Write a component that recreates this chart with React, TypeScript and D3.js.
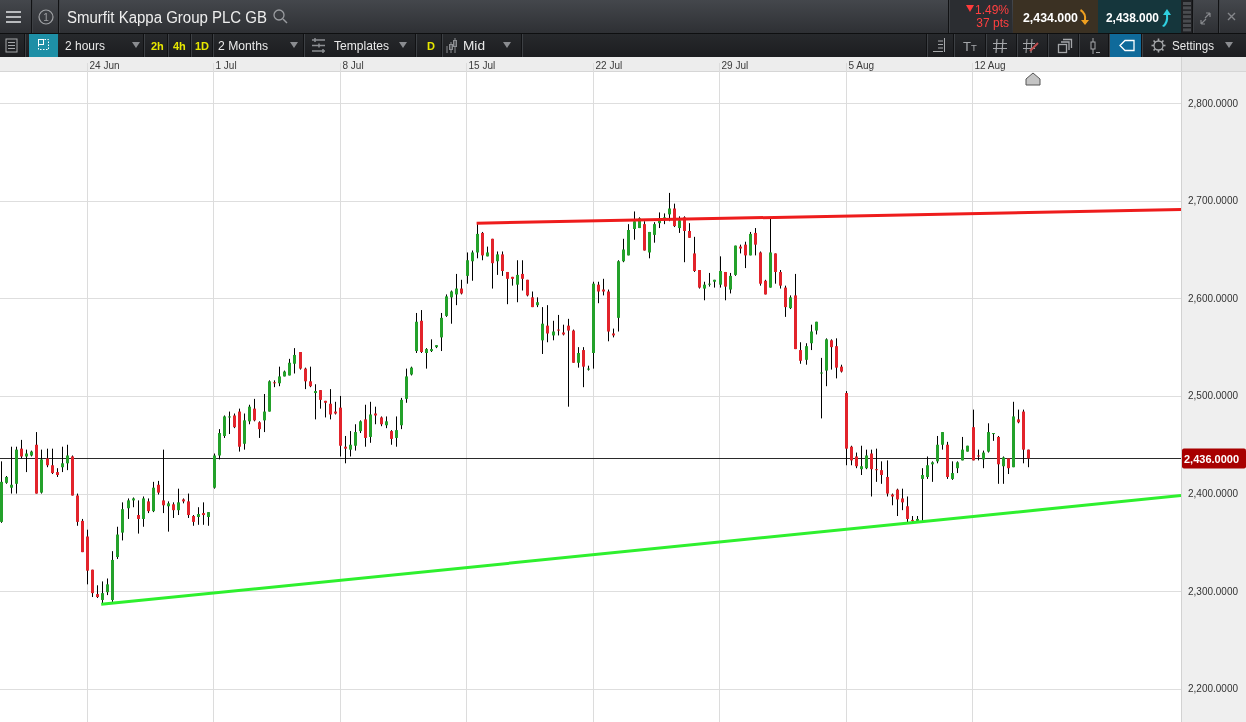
import React from 'react';
import * as d3 from 'd3';

const W = 1246;
const H = 722;

// ---- data (2-hour candles, index 0 = first visible candle) ----
const opens = [2371,2411,2406,2410,2446,2438,2439,2450,2401,2436,2429,2422,2427,2431,2438,2398,2372,2356,2322,2297,2291,2299,2291,2335,2360,2385,2393,2378,2374,2392,2382,2409,2393,2387,2389,2383,2394,2392,2377,2376,2380,2376,2406,2439,2459,2478,2480,2484,2451,2474,2487,2473,2475,2484,2514,2513,2520,2521,2533,2545,2528,2515,2503,2506,2495,2492,2484,2488,2448,2445,2449,2464,2476,2458,2482,2478,2470,2464,2457,2470,2497,2522,2546,2577,2544,2546,2550,2560,2582,2601,2604,2610,2623,2638,2647,2667,2643,2661,2638,2645,2627,2622,2614,2625,2619,2601,2593,2557,2572,2562,2568,2565,2572,2567,2534,2547,2527,2544,2614,2609,2607,2564,2580,2638,2644,2671,2672,2676,2647,2665,2677,2682,2686,2692,2672,2683,2669,2646,2629,2610,2615,2617,2614,2627,2609,2624,2653,2655,2644,2667,2647,2618,2611,2646,2627,2611,2590,2603,2547,2537,2554,2567,2523,2526,2557,2551,2530,2503,2448,2438,2425,2426,2441,2425,2424,2417,2399,2404,2395,2387,2373,2372,2415,2417,2430,2433,2450,2450,2415,2426,2434,2443,2468,2439,2435,2443,2461,2458,2428,2436,2427,2476,2484,2445];
const highs = [2433,2418,2448,2448,2455,2445,2444,2463,2445,2446,2446,2426,2448,2450,2439,2400,2374,2363,2322,2306,2310,2313,2341,2366,2391,2395,2396,2393,2397,2395,2412,2413,2445,2392,2391,2405,2395,2400,2378,2386,2391,2381,2441,2466,2480,2484,2482,2487,2482,2491,2497,2474,2502,2516,2516,2530,2526,2538,2549,2545,2529,2530,2512,2506,2495,2507,2494,2500,2459,2464,2471,2475,2491,2494,2489,2479,2479,2465,2479,2498,2528,2530,2585,2588,2549,2558,2552,2585,2604,2608,2625,2619,2647,2649,2676,2668,2653,2661,2648,2648,2627,2622,2639,2639,2619,2607,2601,2591,2593,2577,2583,2573,2579,2568,2550,2550,2531,2617,2617,2620,2609,2569,2639,2661,2676,2689,2683,2679,2668,2678,2688,2687,2708,2697,2684,2684,2677,2663,2629,2617,2626,2619,2643,2627,2626,2654,2655,2658,2668,2672,2648,2619,2683,2646,2629,2613,2603,2625,2555,2554,2573,2576,2539,2559,2558,2559,2532,2505,2449,2442,2449,2445,2445,2446,2433,2434,2400,2405,2405,2397,2377,2377,2426,2438,2433,2459,2463,2453,2433,2433,2458,2449,2486,2445,2444,2472,2462,2459,2438,2436,2494,2486,2486,2445];
const lows = [2370,2410,2400,2400,2436,2422,2438,2400,2400,2427,2420,2417,2422,2424,2398,2367,2340,2307,2294,2293,2287,2296,2289,2333,2352,2374,2386,2359,2366,2380,2381,2399,2380,2361,2375,2378,2390,2375,2367,2368,2368,2367,2405,2435,2457,2461,2467,2443,2445,2471,2474,2457,2463,2484,2509,2510,2520,2521,2523,2527,2507,2509,2476,2487,2478,2476,2481,2438,2431,2438,2444,2462,2448,2452,2471,2469,2467,2450,2448,2466,2493,2521,2544,2544,2528,2545,2549,2546,2581,2574,2593,2604,2615,2618,2641,2639,2643,2610,2624,2623,2594,2613,2596,2608,2602,2591,2591,2543,2555,2557,2562,2562,2489,2534,2529,2509,2526,2528,2595,2603,2556,2560,2566,2637,2644,2660,2672,2649,2641,2657,2672,2676,2679,2673,2667,2637,2662,2627,2610,2598,2612,2611,2611,2598,2605,2623,2646,2631,2644,2644,2613,2604,2611,2615,2610,2581,2589,2548,2533,2532,2547,2563,2477,2510,2527,2518,2524,2429,2429,2426,2419,2425,2397,2412,2410,2397,2388,2377,2383,2370,2370,2371,2371,2415,2412,2431,2445,2415,2414,2421,2434,2443,2434,2434,2426,2442,2454,2410,2410,2420,2427,2472,2431,2427];
const closes = [2412,2417,2409,2445,2438,2441,2443,2400,2435,2429,2421,2419,2431,2439,2398,2371,2340,2321,2298,2294,2298,2307,2332,2358,2384,2393,2395,2374,2395,2382,2406,2401,2388,2390,2383,2391,2392,2378,2371,2379,2378,2381,2439,2462,2479,2479,2468,2448,2475,2489,2475,2466,2484,2515,2513,2520,2525,2534,2542,2528,2515,2510,2505,2496,2493,2481,2482,2449,2446,2450,2463,2474,2457,2481,2480,2471,2474,2456,2465,2496,2520,2529,2576,2545,2548,2548,2552,2580,2602,2607,2610,2605,2639,2647,2666,2644,2647,2636,2645,2628,2620,2620,2624,2620,2603,2591,2596,2574,2564,2566,2567,2563,2567,2534,2544,2530,2528,2615,2607,2607,2566,2562,2638,2650,2670,2679,2682,2649,2668,2676,2682,2683,2692,2674,2680,2669,2662,2628,2611,2614,2615,2619,2628,2612,2623,2654,2651,2644,2666,2655,2615,2604,2647,2627,2613,2591,2601,2548,2536,2551,2566,2576,2524,2558,2550,2529,2525,2446,2434,2428,2428,2439,2425,2424,2419,2400,2397,2394,2391,2374,2372,2374,2419,2429,2432,2450,2463,2417,2421,2432,2445,2449,2434,2438,2442,2463,2462,2430,2437,2426,2479,2473,2445,2436];

const weekTickIndex = [17, 42, 67, 92, 117, 142, 167, 192];
const weekLabels = ['24 Jun', '1 Jul', '8 Jul', '15 Jul', '22 Jul', '29 Jul', '5 Aug', '12 Aug'];
const priceTicks = [2200, 2300, 2400, 2500, 2600, 2700, 2800];
const lastPrice = 2436;
const resistanceLine: [number, number][] = [[94, 2677], [233.2, 2691]];
const supportLine: [number, number][] = [[19.8, 2286.5], [233.2, 2398]];

const instrument = 'Smurfit Kappa Group PLC GB';
const changePct = '1.49%';
const changePts = '37 pts';
const sellPrice = '2,434.000';
const buyPrice = '2,438.000';

// ---- layout ----
const FONT = '"Liberation Sans", Arial, sans-serif';
const plotRight = 1181;
const plotTop = 72;
const stripTop = 57;

const GREEN = '#23a12a';
const RED = '#e2232b';

function Sep({ x, y1, y2 }: { x: number; y1: number; y2: number }) {
  return (
    <g>
      <line x1={x - 0.5} x2={x - 0.5} y1={y1} y2={y2} stroke="#111214" />
      <line x1={x + 0.5} x2={x + 0.5} y1={y1} y2={y2} stroke="#3d4044" />
    </g>
  );
}

function Tri({ x, y }: { x: number; y: number }) {
  return <path d={`M${x - 4},${y - 3} L${x + 4},${y - 3} L${x},${y + 3} Z`} fill="#8a8c90" />;
}

export default function App() {
  const x = d3.scaleLinear().domain([-0.2, 233.2]).range([0, plotRight]);
  const y = d3.scaleLinear().domain([2200, 2800]).range([688.8, 103.1]);
  const fmt = d3.format(',.4f');
  const n = closes.length;
  const line = d3.line<[number, number]>().x((d) => x(d[0])).y((d) => y(d[1]));

  const candles = d3.range(n).map((i) => {
    const o = opens[i], c = closes[i], h = highs[i], l = lows[i];
    const cx = Math.round(x(i)) + 0.5;
    const top = y(Math.max(o, c));
    const bh = Math.max(1, Math.abs(y(o) - y(c)));
    return (
      <g key={i}>
        <line x1={cx} x2={cx} y1={y(h)} y2={y(l)} stroke="#000" strokeWidth={1} />
        <rect x={cx - 1.5} y={top} width={3} height={bh} fill={c >= o ? GREEN : RED} />
      </g>
    );
  });

  const hx = Math.round(x(n));
  const lastY = Math.round(y(lastPrice)) + 0.5;

  return (
    <div style={{ position: 'fixed', left: 0, top: 0, width: W, height: H }}>
      <svg width={W} height={H} style={{ display: 'block', fontFamily: FONT }}>
        <defs>
          <linearGradient id="row1" x1="0" y1="0" x2="0" y2="1">
            <stop offset="0" stopColor="#44474c" />
            <stop offset="1" stopColor="#2e3034" />
          </linearGradient>
          <linearGradient id="row2" x1="0" y1="0" x2="0" y2="1">
            <stop offset="0" stopColor="#27292c" />
            <stop offset="1" stopColor="#1c1d20" />
          </linearGradient>
          <clipPath id="plotClip">
            <rect x={0} y={plotTop} width={plotRight} height={H - plotTop} />
          </clipPath>
        </defs>

        {/* plot background */}
        <rect x={0} y={plotTop} width={plotRight} height={H - plotTop} fill="#ffffff" />
        {/* right axis panel */}
        <rect x={plotRight} y={plotTop} width={W - plotRight} height={H - plotTop} fill="#efefef" />
        <line x1={plotRight + 0.5} x2={plotRight + 0.5} y1={stripTop} y2={H} stroke="#d2d2d2" />

        {/* date strip */}
        <rect x={0} y={stripTop} width={plotRight} height={plotTop - stripTop} fill="#ededed" />
        <rect x={plotRight + 1} y={stripTop} width={W - plotRight} height={plotTop - stripTop} fill="#e6e6e6" />
        <line x1={0} x2={W} y1={plotTop - 0.5} y2={plotTop - 0.5} stroke="#d6d6d6" />

        {/* grid */}
        {priceTicks.map((p) => (
          <line key={p} x1={0} x2={plotRight} y1={Math.round(y(p)) + 0.5} y2={Math.round(y(p)) + 0.5} stroke="#dedede" />
        ))}
        {weekTickIndex.map((t, k) => {
          const gx = Math.round(x(t - 0.1)) + 0.5;
          return (
            <g key={t}>
              <line x1={gx} x2={gx} y1={63} y2={H} stroke="#dcdcdc" />
              <text x={gx + 2} y={69} fontSize={10} fill="#3a3a3a">{weekLabels[k]}</text>
            </g>
          );
        })}

        {/* price axis labels */}
        {priceTicks.map((p) => (
          <text key={p} x={1188} y={y(p) + 3.5} fontSize={10.5} fill="#333" textLength={50} lengthAdjust="spacingAndGlyphs">
            {fmt(p)}
          </text>
        ))}

        <g clipPath="url(#plotClip)">
          {/* current price line */}
          <line x1={0} x2={plotRight} y1={lastY} y2={lastY} stroke="#2a2a2a" strokeWidth={1} />
          {candles}
          <path d={line(resistanceLine) || ''} stroke="#ee1c1c" strokeWidth={3} fill="none" />
          <path d={line(supportLine) || ''} stroke="#2ef02e" strokeWidth={3} fill="none" />
        </g>

        {/* last price tag */}
        <rect x={plotRight + 1} y={lastY - 10} width={W - plotRight - 1} height={20} rx={2} fill="#a80000" />
        <text x={1184} y={lastY + 4} fontSize={11} fontWeight="bold" fill="#ffffff" textLength={55} lengthAdjust="spacingAndGlyphs">
          {fmt(lastPrice)}
        </text>

        {/* home marker */}
        <path d={`M${hx},${73} L${hx + 7},${79} L${hx + 7},${85} L${hx - 7},${85} L${hx - 7},${79} Z`} fill="#c4c4c4" stroke="#555" strokeWidth={1} />

        {/* ---- header row 1 ---- */}
        <rect x={0} y={0} width={W} height={33} fill="url(#row1)" />
        <line x1={0} x2={W} y1={33.5} y2={33.5} stroke="#0e0f10" />
        {[12, 17, 22].map((yy) => (
          <line key={yy} x1={6} x2={21} y1={yy} y2={yy} stroke="#b8babd" strokeWidth={2} />
        ))}
        <Sep x={32} y1={0} y2={33} />
        <circle cx={46} cy={17} r={7} fill="none" stroke="#a0a2a5" strokeWidth={1.2} />
        <text x={46} y={21} fontSize={10} fill="#a0a2a5" textAnchor="middle">1</text>
        <Sep x={59} y1={0} y2={33} />
        <text x={67} y={23} fontSize={16} fill="#eeeeee" textLength={200} lengthAdjust="spacingAndGlyphs">{instrument}</text>
        <circle cx={279} cy={15} r={5} fill="none" stroke="#9a9ca0" strokeWidth={1.3} />
        <line x1={283} y1={19} x2={287} y2={23} stroke="#9a9ca0" strokeWidth={1.5} />

        {/* right side of row 1 */}
        <rect x={949} y={0} width={63} height={33} fill="#2b2d31" />
        <Sep x={949} y1={0} y2={33} />
        <path d="M966,5 L974,5 L970,12 Z" fill="#ff3b3b" />
        <text x={1009} y={14} fontSize={12} fill="#ff4040" textAnchor="end">{changePct}</text>
        <text x={1009} y={27} fontSize={12} fill="#ff4040" textAnchor="end">{changePts}</text>
        <rect x={1013} y={0} width={85} height={33} fill="#3b3123" />
        <text x={1023} y={22} fontSize={13} fontWeight="bold" fill="#ffffff" textLength={55} lengthAdjust="spacingAndGlyphs">{sellPrice}</text>
        <path d="M1080,11 Q1085,14 1084,20 L1081,20 L1085,25 L1089,20 L1086,20 Q1087,13 1081,9 Z" fill="#f0a020" />
        <rect x={1098} y={0} width={83} height={33} fill="#15363c" />
        <text x={1106} y={22} fontSize={13} fontWeight="bold" fill="#ffffff" textLength={53} lengthAdjust="spacingAndGlyphs">{buyPrice}</text>
        <path d="M1162,26 Q1167,22 1166,15 L1163,15 L1167,9 L1171,15 L1168,15 Q1169,23 1164,27 Z" fill="#2fd0e0" />
        <rect x={1181} y={0} width={12} height={33} fill="#1f2023" />
        {d3.range(7).map((k) => (
          <rect key={k} x={1183} y={2 + k * 4.4} width={8} height={3} fill="#4a4c50" />
        ))}
        <Sep x={1193} y1={0} y2={33} />
        <path d="M1201,24 L1206,19 M1201,24 L1201,20 M1201,24 L1205,24 M1210,13 L1205,18 M1210,13 L1210,17 M1210,13 L1206,13" stroke="#85878b" strokeWidth={1.2} fill="none" />
        <Sep x={1219} y1={0} y2={33} />
        <path d="M1228,13 L1235,20 M1235,13 L1228,20" stroke="#85878b" strokeWidth={1.4} />

        {/* ---- header row 2 ---- */}
        <rect x={0} y={34} width={W} height={23} fill="url(#row2)" />
        <rect x={6} y={39} width={11} height={13} fill="none" stroke="#a5a7aa" />
        {[42, 45, 48].map((yy) => (
          <line key={yy} x1={8} x2={15} y1={yy + 0.5} y2={yy + 0.5} stroke="#a5a7aa" />
        ))}
        <Sep x={25} y1={34} y2={57} />
        <rect x={29} y={34} width={29} height={23} fill="#1e8fa6" />
        <rect x={38.5} y={39.5} width={10} height={10} fill="none" stroke="#ffffff" strokeDasharray="1.5 1.5" />
        <rect x={38.5} y={39.5} width={5} height={5} fill="none" stroke="#ffffff" />
        <text x={65} y={50} fontSize={13} fill="#e9e9e9" textLength={40} lengthAdjust="spacingAndGlyphs">2 hours</text>
        <Tri x={136} y={45} />
        <Sep x={144} y1={34} y2={57} />
        <text x={151} y={50} fontSize={11} fontWeight="bold" fill="#e8e800">2h</text>
        <Sep x={168} y1={34} y2={57} />
        <text x={173} y={50} fontSize={11} fontWeight="bold" fill="#e8e800">4h</text>
        <Sep x={191} y1={34} y2={57} />
        <text x={195} y={50} fontSize={11} fontWeight="bold" fill="#e8e800">1D</text>
        <Sep x={213} y1={34} y2={57} />
        <text x={218} y={50} fontSize={13} fill="#e9e9e9" textLength={50} lengthAdjust="spacingAndGlyphs">2 Months</text>
        <Tri x={294} y={45} />
        <Sep x={304} y1={34} y2={57} />
        {[40, 45.5, 51].map((yy, k) => (
          <g key={yy}>
            <line x1={312} x2={325} y1={yy} y2={yy} stroke="#8d8f93" strokeWidth={1.5} />
            <line x1={315 + k * 4} x2={315 + k * 4} y1={yy - 2} y2={yy + 2} stroke="#8d8f93" strokeWidth={1.5} />
          </g>
        ))}
        <text x={334} y={50} fontSize={13} fill="#e9e9e9" textLength={55} lengthAdjust="spacingAndGlyphs">Templates</text>
        <Tri x={403} y={45} />
        <Sep x={416} y1={34} y2={57} />
        <text x={427} y={50} fontSize={11} fontWeight="bold" fill="#e8e800">D</text>
        <Sep x={442} y1={34} y2={57} />
        <path d="M447,46 L447,53 M451,42 L451,53 M455,38 L455,53" stroke="#8d8f93" strokeWidth={1} />
        <rect x={449.5} y={44.5} width={3} height={5} fill="none" stroke="#8d8f93" />
        <rect x={453.5} y={40.5} width={3} height={6} fill="none" stroke="#8d8f93" />
        <text x={463} y={50} fontSize={13} fill="#e9e9e9" textLength={22} lengthAdjust="spacingAndGlyphs">Mid</text>
        <Tri x={507} y={45} />
        <Sep x={522} y1={34} y2={57} />

        {/* right icons of row 2 */}
        <Sep x={927} y1={34} y2={57} />
        <path d="M938,41 L943,41 M938,44.5 L943,44.5 M938,48 L943,48 M933,51.5 L943,51.5 M944.5,38 L944.5,52" stroke="#a5a7aa" strokeWidth={1} fill="none" />
        <Sep x={954} y1={34} y2={57} />
        <text x={963} y={51} fontSize={13} fill="#a5a7aa">T</text>
        <text x={971} y={51} fontSize={9.5} fill="#a5a7aa">T</text>
        <Sep x={986} y1={34} y2={57} />
        <path d="M997,39 L996,53 M1003,39 L1002,53 M993,43.5 L1007,43.5 M993,48.5 L1007,48.5" stroke="#a5a7aa" strokeWidth={1.2} fill="none" />
        <Sep x={1017} y1={34} y2={57} />
        <path d="M1027,39 L1026,53 M1032,39 L1031,53 M1023,43.5 L1035,43.5 M1023,48.5 L1035,48.5" stroke="#a5a7aa" strokeWidth={1} fill="none" />
        <path d="M1030,51 L1038,43" stroke="#c25050" strokeWidth={2} />
        <Sep x={1048} y1={34} y2={57} />
        <rect x={1058.5} y={44.5} width={8} height={8} fill="none" stroke="#a5a7aa" strokeWidth={1.3} />
        <path d="M1061,42 L1069,42 L1069,50 M1063,39.5 L1071.5,39.5 L1071.5,48" stroke="#a5a7aa" strokeWidth={1.3} fill="none" />
        <Sep x={1079} y1={34} y2={57} />
        <path d="M1093,38 L1093,54 M1096,52.5 L1100,52.5" stroke="#a5a7aa" strokeWidth={1} />
        <rect x={1091} y={42} width={4} height={7} fill="#1e1f22" stroke="#a5a7aa" />
        <Sep x={1109} y1={34} y2={57} />
        <rect x={1110} y={34} width={32} height={23} fill="#0f6a9a" />
        <path d="M1120,45.5 L1125,40.5 L1134,40.5 L1134,50.5 L1125,50.5 Z" fill="none" stroke="#ffffff" strokeWidth={1.3} />
        <Sep x={1142} y1={34} y2={57} />
        <circle cx={1158.5} cy={45.5} r={4.5} fill="none" stroke="#a5a7aa" strokeWidth={1.3} />
        {d3.range(8).map((k) => {
          const a = (k * Math.PI) / 4;
          return (
            <line key={k} x1={1158.5 + Math.cos(a) * 4.5} y1={45.5 + Math.sin(a) * 4.5} x2={1158.5 + Math.cos(a) * 7} y2={45.5 + Math.sin(a) * 7} stroke="#a5a7aa" strokeWidth={1.6} />
          );
        })}
        <text x={1172} y={50} fontSize={13} fill="#e9e9e9" textLength={42} lengthAdjust="spacingAndGlyphs">Settings</text>
        <Tri x={1229} y={45} />
      </svg>
    </div>
  );
}
